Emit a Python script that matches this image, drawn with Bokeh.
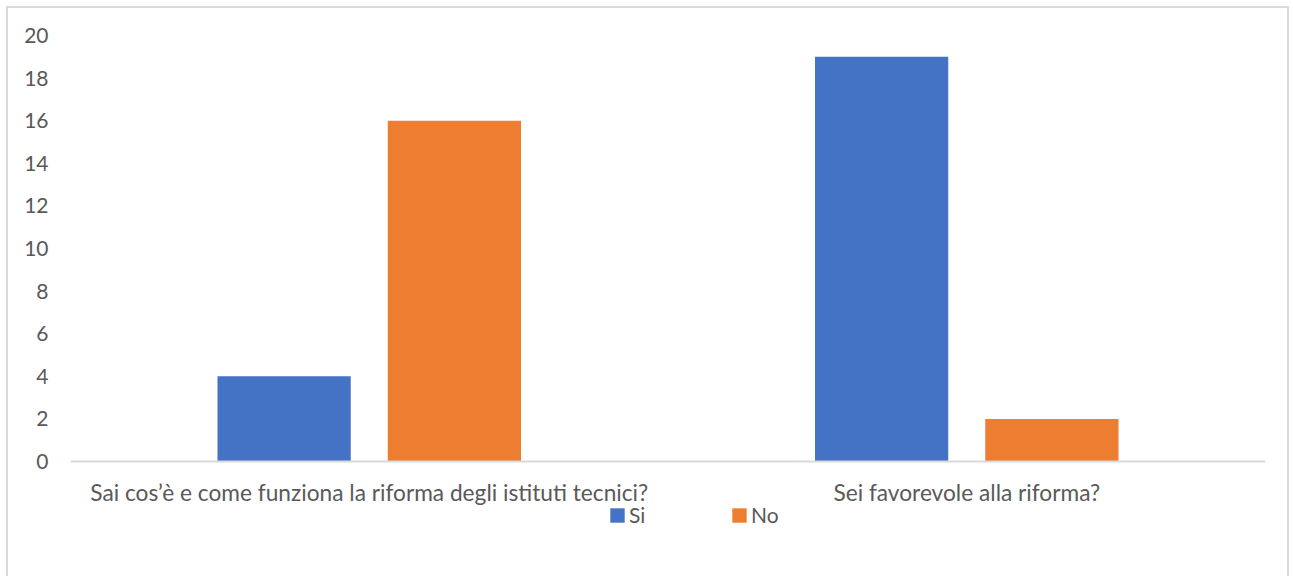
from bokeh.plotting import figure
from bokeh.models import ColumnDataSource, FactorRange, Range1d, Legend, LegendItem, FixedTicker
from bokeh.transform import dodge
from bokeh.embed import file_html
from bokeh.resources import INLINE

categories = ["Sai cos’è e come funziona la riforma degli istituti tecnici?", "Sei favorevole alla riforma?"]
si_values = [4, 19]
no_values = [16, 2]
y_ticks = [0, 2, 4, 6, 8, 10, 12, 14, 16, 18, 20]

FONT = "Lato"
TXT = "#595959"

src = ColumnDataSource(data=dict(cat=categories, si=si_values, no=no_values))

# frame extends below zero so that the legend (drawn inside the frame) is not clipped
p = figure(x_range=FactorRange(*categories, range_padding=0), y_range=Range1d(-3.146, 20),
           width=1283, height=570, output_backend="svg", toolbar_location=None,
           min_border_left=62, min_border_right=26, min_border_top=27, min_border_bottom=50)
p.styles = {"border-left": "2px solid #d9d9d9", "border-top": "2px solid #d9d9d9",
            "border-right": "2px solid #d9d9d9", "margin-left": "6px", "margin-top": "6px"}
p.outline_line_color = None
p.xgrid.visible = False
p.ygrid.visible = False

r1 = p.vbar(x=dodge("cat", -0.1425, range=p.x_range), top="si", width=0.223, source=src,
            fill_color="#4472C4", line_color=None)
r2 = p.vbar(x=dodge("cat", 0.1425, range=p.x_range), top="no", width=0.223, source=src,
            fill_color="#ED7D31", line_color=None)

p.yaxis.ticker = FixedTicker(ticks=y_ticks)
p.yaxis.axis_line_color = None
p.yaxis.major_tick_line_color = None
p.yaxis.minor_tick_line_color = None
p.yaxis.major_tick_out = 0
p.yaxis.major_label_text_font = FONT
p.yaxis.major_label_text_font_size = "21px"
p.yaxis.major_label_text_color = TXT
p.yaxis.major_label_standoff = 22

p.xaxis.fixed_location = 0
p.xaxis.axis_line_color = "#d9d9d9"
p.xaxis.axis_line_width = 2
p.xaxis.major_tick_line_color = None
p.xaxis.minor_tick_line_color = None
p.xaxis.major_tick_out = 0
p.xaxis.major_label_text_font = FONT
p.xaxis.major_label_text_font_size = "22.7px"
p.xaxis.major_label_text_color = TXT
p.xaxis.major_label_standoff = 18

legend = Legend(items=[LegendItem(label="Si", renderers=[r1]), LegendItem(label="No", renderers=[r2])],
                orientation="horizontal", location=(538, 1), padding=0, margin=0,
                glyph_width=18, glyph_height=18, label_standoff=3, label_width=95, spacing=6,
                label_text_font=FONT, label_text_font_size="21px", label_text_color=TXT,
                border_line_color=None, background_fill_alpha=0)
p.add_layout(legend, "center")

open("out.html", "w").write(file_html(p, INLINE))
